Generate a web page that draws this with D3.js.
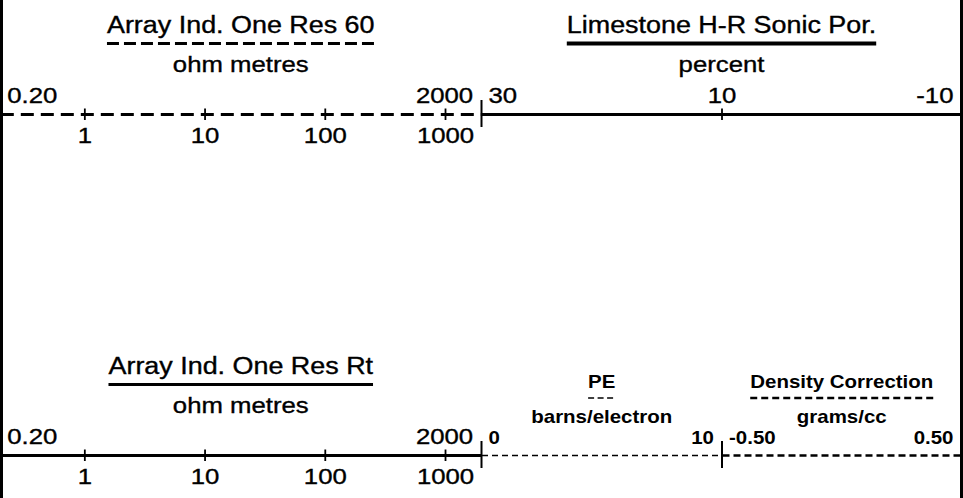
<!DOCTYPE html>
<html>
<head>
<meta charset="utf-8">
<script src="https://cdn.jsdelivr.net/npm/d3@7"></script>
<style>
body{margin:0;background:#fff}
svg{display:block;font-family:"Liberation Sans",Arial,Helvetica,sans-serif}
</style>
</head>
<body>
<svg></svg>
<script>
// curve header data
let curveNames=["Array Ind. One Res 60","Limestone H-R Sonic Por.","Array Ind. One Res Rt","PE","Density Correction"]
let curveUnits=["ohm metres","percent","ohm metres","barns/electron","grams/cc"]
let scaleLeft=[0.2,30,0.2,0,-0.5]
let scaleRight=[2000,-10,2000,10,0.5]
let leftLabels=["0.20","30","0.20","0","-0.50"]
let rightLabels=["2000","-10","2000","10","0.50"]
let resTicks=[1,10,100,1000]
let resTickLabels=["1","10","100","1000"]
let porTicks=[10]
let porTickLabels=["10"]

let width=963
let height=498
let rowOffset=[0,341]
let stretch=1.17   // the header font is wider than Arial

// how each curve header is laid out
let tracks=[
    {row:0,x0:0.3,x1:481.2,type:'log',dash:'13,7',lw:3,under:'12,5',ulw:3,ticks:resTicks,tickLabels:resTickLabels,side:'below',small:false,divider:false},
    {row:0,x0:481.5,x1:961.5,type:'lin',dash:null,lw:3,under:null,ulw:4,ticks:porTicks,tickLabels:porTickLabels,side:'above',small:false,divider:true},
    {row:1,x0:0.3,x1:481.2,type:'log',dash:null,lw:3,under:null,ulw:3,ticks:resTicks,tickLabels:resTickLabels,side:'below',small:false,divider:false},
    {row:1,x0:481.5,x1:722,type:'lin',dash:'6,4',lw:1.6,under:'6,3.5',ulw:1.6,ticks:[],tickLabels:[],side:'below',small:true,divider:true},
    {row:1,x0:722,x1:961.5,type:'lin',dash:'7,4',lw:2.6,under:'7,4',ulw:2.6,ticks:[],tickLabels:[],side:'below',small:true,divider:true}
]

let svg=d3.select('svg').attr('width',width).attr('height',height)

svg.append('rect').attr('width',width).attr('height',height).attr('fill','#fff')

// vertical track borders
svg.append('line').attr('x1',1.5).attr('x2',1.5).attr('y1',0).attr('y2',height)
    .attr('stroke','#000').attr('stroke-width',3)
svg.append('line').attr('x1',961.5).attr('x2',961.5).attr('y1',0).attr('y2',height)
    .attr('stroke','#000').attr('stroke-width',3)

let putText=(g,x,y,str,size,weight,anchor)=>{
    let t=g.append('text')
        .attr('transform','translate('+x+','+y+') scale('+stretch+',1)')
        .attr('text-anchor',anchor)
        .attr('font-size',size)
        .attr('font-weight',weight)
        .attr('fill','#000')
        .text(str)
    if(weight=='normal') t.attr('stroke','#000').attr('stroke-width',0.35)
    return t
}

tracks.forEach((t,i)=>{
    let oy=rowOffset[t.row]
    let g=svg.append('g').attr('transform','translate(0,'+oy+')')
    let scale=(t.type=='log'?d3.scaleLog():d3.scaleLinear())
        .domain([scaleLeft[i],scaleRight[i]])
        .range([t.x0,t.x1])
    let cx=(t.x0+t.x1)/2
    let weight=t.small?'bold':'normal'
    let titleSize=t.small?17.5:23
    let unitSize=t.small?17.5:22
    let labelSize=t.small?17.5:22
    let titleY=t.small?47:33
    let underY=t.small?57:43.5
    let unitY=t.small?82:71.5
    let axisY=114

    // curve name with its line-style underline
    let title=putText(g,cx,titleY,curveNames[i],titleSize,weight,'middle')
    let tw=title.node().getComputedTextLength()*stretch
    let ul=g.append('line')
        .attr('x1',cx-tw/2).attr('x2',cx+tw/2)
        .attr('y1',underY).attr('y2',underY)
        .attr('stroke','#000').attr('stroke-width',t.ulw)
    if(t.under) ul.attr('stroke-dasharray',t.under)

    putText(g,cx,unitY,curveUnits[i],unitSize,weight,'middle')

    // scale end values
    putText(g,scale(scaleLeft[i])+7,102.5,leftLabels[i],labelSize,weight,'start')
    putText(g,scale(scaleRight[i])-8,102.5,rightLabels[i],labelSize,weight,'end')

    // scale line with ticks
    let axis=(t.side=='above'?d3.axisTop(scale):d3.axisBottom(scale))
        .tickValues(t.ticks)
        .tickFormat((d,k)=>t.tickLabels[k])
        .tickSizeOuter(0)
    let ag=g.append('g')
        .attr('transform','translate(0,'+axisY+')')
        .call(axis)
        .attr('font-family',null)
        .attr('font-size',null)
    ag.select('.domain')
        .attr('stroke','#000')
        .attr('stroke-width',t.lw)
        .attr('stroke-dasharray',t.dash)
    ag.selectAll('.tick line')
        .attr('y1',-5.5).attr('y2',6)
        .attr('stroke','#000').attr('stroke-width',1.8)
    ag.selectAll('.tick text')
        .attr('dy',null)
        .attr('y',t.side=='above'?-11:29)
        .attr('transform','scale('+stretch+',1)')
        .attr('font-size',labelSize)
        .attr('fill','#000')
        .attr('stroke','#000')
        .attr('stroke-width',0.35)

    // track divider
    if(t.divider){
        g.append('line')
            .attr('x1',scale(scaleLeft[i])).attr('x2',scale(scaleLeft[i]))
            .attr('y1',axisY-14).attr('y2',axisY+13)
            .attr('stroke','#000').attr('stroke-width',2)
    }
})
</script>
</body>
</html>
